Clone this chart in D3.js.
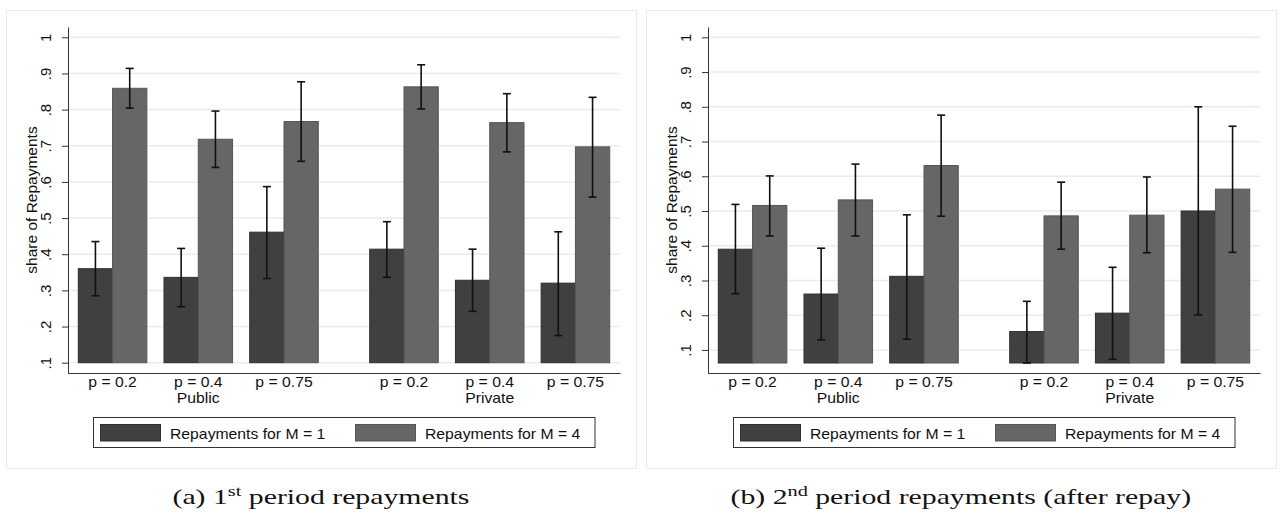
<!DOCTYPE html>
<html><head><meta charset="utf-8">
<script src="https://cdn.jsdelivr.net/npm/d3@7"></script>
<style>body{margin:0;background:#fff}svg{display:block}</style>
</head><body><svg id="c" width="1281" height="512"></svg>
<script>
// ---- data ----
const groups = ["Public", "Private"];
const pLabels = ["p = 0.2", "p = 0.4", "p = 0.75"];
const seriesNames = ["Repayments for M = 1", "Repayments for M = 4"];
const yTickValues = [0.1, 0.2, 0.3, 0.4, 0.5, 0.6, 0.7, 0.8, 0.9, 1];
const yTickLabels = [".1", ".2", ".3", ".4", ".5", ".6", ".7", ".8", ".9", "1"];
const yTitle = "share of Repayments";

// panel (a): 1st period repayments (order: Public p=.2,.4,.75, Private p=.2,.4,.75)
const aM1   = [0.360, 0.336, 0.461, 0.414, 0.328, 0.320];
const aM1Lo = [0.285, 0.255, 0.333, 0.336, 0.242, 0.175];
const aM1Hi = [0.435, 0.416, 0.587, 0.490, 0.414, 0.462];
const aM4   = [0.859, 0.718, 0.767, 0.863, 0.764, 0.697];
const aM4Lo = [0.804, 0.640, 0.657, 0.802, 0.683, 0.558];
const aM4Hi = [0.914, 0.796, 0.877, 0.924, 0.844, 0.834];
const aBase = 0.1;
const aYDomain = [0.0715, 1.0285];

// panel (b): 2nd period repayments (after repay)
const bM1   = [0.390, 0.261, 0.312, 0.153, 0.206, 0.500];
const bM1Lo = [0.262, 0.129, 0.131, 0.0625, 0.073, 0.201];
const bM1Hi = [0.519, 0.393, 0.489, 0.240, 0.338, 0.800];
const bM4   = [0.516, 0.532, 0.631, 0.486, 0.488, 0.563];
const bM4Lo = [0.428, 0.428, 0.485, 0.390, 0.380, 0.381];
const bM4Hi = [0.601, 0.635, 0.776, 0.583, 0.598, 0.744];
const bBase = 0.0625;
const bYDomain = [0.0337, 1.0297];

const captionA = {pre: "(a) 1", sup: "st", post: " period repayments"};
const captionB = {pre: "(b) 2", sup: "nd", post: " period repayments (after repay)"};

// ---- styling ----
const colors = ["#404040", "#666666"];
const strokes = ["#2e2e2e", "#555555"];
const sansFont = "'Liberation Sans', Arial, Helvetica, sans-serif";
const serifFont = "'Liberation Serif', 'Times New Roman', serif";
const TX = 1.125; // horizontal text stretch of the original

const svg = d3.select("#c");

function drawPanel(dx, m1, m1Lo, m1Hi, m4, m4Lo, m4Hi, base, yDomain, caption, capW) {
  const g = svg.append("g").attr("transform", `translate(${dx},0)`);
  // frame
  g.append("rect").attr("x", 6.5).attr("y", 10.5).attr("width", 630).attr("height", 458)
    .attr("fill", "#fff").attr("stroke", "#e6edef").attr("stroke-width", 1);

  const L = 68, R = 620, T = 27, B = 373;
  const y = d3.scaleLinear().domain(yDomain).range([B, T]);
  // x in bar-width units: 16.1 units across plot region
  const x = d3.scaleLinear().domain([0, 16.1]).range([L, R]);
  const groupStart = i => 0.3 + Math.floor(i / 3) * 8.5 + (i % 3) * 2.5;

  // gridlines
  g.append("g").selectAll("line").data(yTickValues).join("line")
    .attr("x1", L).attr("x2", R).attr("y1", d => y(d)).attr("y2", d => y(d))
    .attr("stroke", "#e6eef0").attr("stroke-width", 1.5);

  const series = [
    {v: m1, lo: m1Lo, hi: m1Hi, off: 0},
    {v: m4, lo: m4Lo, hi: m4Hi, off: 1}
  ];
  series.forEach((s, si) => {
    g.append("g").selectAll("rect").data(s.v).join("rect")
      .attr("x", (d, i) => x(groupStart(i) + s.off))
      .attr("width", x(1) - x(0))
      .attr("y", d => y(d))
      .attr("height", d => y(base) - y(d))
      .attr("fill", colors[si]).attr("stroke", strokes[si]).attr("stroke-width", 1);
  });
  series.forEach((s) => {
    const eg = g.append("g").attr("stroke", "#111").attr("stroke-width", 1.6);
    s.v.forEach((d, i) => {
      const cx = x(groupStart(i) + s.off + 0.5);
      eg.append("line").attr("x1", cx).attr("x2", cx).attr("y1", y(s.hi[i])).attr("y2", y(s.lo[i]));
      eg.append("line").attr("x1", cx - 4).attr("x2", cx + 4).attr("y1", y(s.hi[i])).attr("y2", y(s.hi[i]));
      eg.append("line").attr("x1", cx - 4).attr("x2", cx + 4).attr("y1", y(s.lo[i])).attr("y2", y(s.lo[i]));
    });
  });

  // y axis
  const ya = g.append("g").attr("transform", `translate(${L},0)`)
    .call(d3.axisLeft(y).tickValues(yTickValues).tickFormat((d, i) => yTickLabels[i]).tickSize(6).tickSizeOuter(0));
  ya.select(".domain").attr("stroke", "#333");
  ya.selectAll(".tick line").attr("stroke", "#333");
  ya.selectAll(".tick text").attr("x", null).attr("dy", null)
    .attr("transform", "translate(-17,0) rotate(-90)").attr("text-anchor", "middle")
    .attr("font-family", sansFont).attr("font-size", 15).attr("fill", "#111");

  // x axis line
  const xa = g.append("g").attr("transform", `translate(0,${B})`)
    .call(d3.axisBottom(x).tickValues([]).tickSizeOuter(0));
  xa.select(".domain").attr("stroke", "#333");

  // x labels
  for (let i = 0; i < 6; i++) {
    const cx = x(groupStart(i) + 1);
    g.append("text").attr("transform", `translate(${cx},387) scale(${TX},1)`)
      .attr("text-anchor", "middle").attr("font-family", sansFont).attr("font-size", 14).attr("fill", "#111")
      .text(pLabels[i % 3]);
  }
  groups.forEach((gn, k) => {
    const cx = x(groupStart(k * 3 + 1) + 1);
    g.append("text").attr("transform", `translate(${cx},403) scale(${TX},1)`)
      .attr("text-anchor", "middle").attr("font-family", sansFont).attr("font-size", 14).attr("fill", "#111")
      .text(gn);
  });

  // y title
  g.append("text").attr("transform", `translate(37,${(T + B) / 2}) rotate(-90)`)
    .attr("text-anchor", "middle").attr("font-family", sansFont).attr("font-size", 15.5).attr("fill", "#111")
    .text(yTitle);

  // legend
  g.append("rect").attr("x", 93.5).attr("y", 417.5).attr("width", 501.5).attr("height", 30)
    .attr("fill", "#fff").attr("stroke", "#333").attr("stroke-width", 1);
  const lx = [100, 355];
  seriesNames.forEach((nm, si) => {
    g.append("rect").attr("x", lx[si] + 0.5).attr("y", 424.5).attr("width", 60).attr("height", 16.5)
      .attr("fill", colors[si]).attr("stroke", strokes[si]).attr("stroke-width", 1);
    g.append("text").attr("transform", `translate(${lx[si] + 70},439) scale(${TX},1)`)
      .attr("font-family", sansFont).attr("font-size", 14).attr("fill", "#111").text(nm);
  });

  // caption
  const cg = g.append("g");
  const ct = cg.append("text").attr("font-family", serifFont).attr("font-size", 22).attr("fill", "#111");
  ct.append("tspan").text(caption.pre);
  ct.append("tspan").attr("font-size", 15).attr("dy", -8).text(caption.sup);
  ct.append("tspan").attr("dy", 8).text(caption.post);
  const w = ct.node().getBBox().width;
  const sx = capW / w;
  cg.attr("transform", `translate(${321 - capW / 2},504) scale(${sx},1)`);
}

drawPanel(0, aM1, aM1Lo, aM1Hi, aM4, aM4Lo, aM4Hi, aBase, aYDomain, captionA, 297);
drawPanel(640, bM1, bM1Lo, bM1Hi, bM4, bM4Lo, bM4Hi, bBase, bYDomain, captionB, 461);
</script></body></html>
